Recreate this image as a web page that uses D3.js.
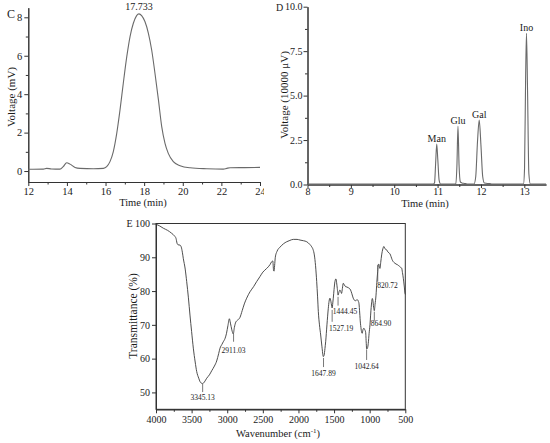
<!DOCTYPE html>
<html><head><meta charset="utf-8">
<script src="https://cdn.jsdelivr.net/npm/d3@7"></script>
<style>
html,body{margin:0;padding:0;background:#fff;}
svg{display:block;font-family:"Liberation Serif","Times New Roman",serif;}
</style></head>
<body>
<script>
// ---------- Panel C data (HPGPC) ----------
const cTime = [12,12.78,12.95,13.2,13.64,13.81,13.99,14.16,14.42,14.68,15.37,15.89,16.06,16.23,16.4,16.58,16.75,16.92,17.1,17.27,17.44,17.61,17.733,17.87,18.04,18.22,18.39,18.56,18.74,18.91,19.08,19.25,19.51,19.86,20.38,21.24,22.1,22.28,22.45,23.2,24];
const cVolt = [0.09,0.1,0.14,0.11,0.1,0.23,0.43,0.36,0.19,0.14,0.12,0.14,0.23,0.49,1.0,1.96,3.18,4.57,5.95,7.0,7.69,8.09,8.18,8.09,7.78,7.17,6.3,5.09,3.7,2.31,1.44,0.92,0.49,0.28,0.17,0.12,0.1,0.14,0.17,0.18,0.19];
const cXTicks = [12,14,16,18,20,22,24];
const cYTicks = [0,2,4,6,8];
const cPeakLabel = "17.733";

// ---------- Panel D data (monosaccharides) ----------
const dTime = [8,10.4,10.9,10.93,10.955,10.98,11.005,11.035,11.07,11.42,11.445,11.47,11.495,11.525,11.56,11.62,11.68,11.84,11.88,11.92,11.96,12.0,12.04,12.08,12.15,12.2,12.25,12.98,13.005,13.03,13.05,13.075,13.105,13.14,13.5];
const dVolt = [0.02,0.02,0.02,0.1,1.2,2.27,1.4,0.25,0.03,0.03,1.0,3.28,1.1,0.15,0.09,0.06,0.03,0.03,0.45,2.4,3.62,2.2,0.45,0.08,0.06,0.06,0.02,0.02,0.9,6.0,8.5,5.2,0.6,0.02,0.02];
const dPeakNames = ["Man","Glu","Gal","Ino"];
const dPeakTime = [10.98,11.47,11.96,13.05];
const dPeakVolt = [2.27,3.28,3.62,8.5];
const dXTicks = [8,9,10,11,12,13];
const dYTicks = [0,2.5,5,7.5,10];

// ---------- Panel E data (FT-IR) ----------
const eWave = [4000,3950,3897,3840,3780,3740,3719,3705,3690,3663,3645,3630,3617,3590,3569,3545,3523,3500,3476,3450,3429,3400,3382,3360,3345,3320,3288,3250,3218,3180,3148,3120,3101,3075,3055,3030,3010,2990,2970,2955,2935,2915,2900,2880,2860,2821,2790,2760,2727,2680,2630,2587,2540,2500,2446,2400,2376,2360,2350,2343,2335,2325,2300,2259,2210,2165,2120,2072,2020,1978,1930,1884,1840,1814,1795,1777,1760,1744,1732,1721,1705,1688,1670,1651,1640,1628,1618,1600,1581,1570,1558,1545,1534,1527,1518,1511,1500,1488,1474,1465,1455,1444,1430,1418,1405,1395,1383,1371,1355,1338,1320,1301,1285,1268,1250,1231,1215,1198,1185,1170,1160,1151,1140,1130,1123,1113,1105,1095,1081,1070,1057,1048,1043,1030,1020,1008,996,985,973,963,955,945,935,925,911,900,888,880,872,865,855,845,832,815,800,790,775,762,745,730,715,700,685,669,650,630,610,598,580,565,551,540,528,515,504,500];
const eTrans = [99.8,99.3,98.6,98.0,97.1,96.3,95.6,94.2,93.7,93.6,93.0,91.5,89.7,86.5,82.8,78,72.9,68,63.1,59,56.2,54.2,53.2,52.7,52.6,53.1,54.2,55.2,56.4,57.8,59.3,61.5,63.1,64.2,65.0,66.0,67.5,69.8,71.8,70.5,68.5,67.3,69.2,70.8,71.3,72.2,74.2,76.2,77.9,79.8,81.3,82.8,84.3,85.6,86.7,87.8,88.7,88.9,86.2,85.9,87.5,90.0,91.8,93.0,94.0,94.6,95.0,95.3,95.3,95.1,94.9,94.6,93.8,93.1,92.3,90.7,87.5,82.8,78.5,73.9,70.0,67.0,63.5,60.6,61.0,63.0,65.0,70.0,74.9,77.0,77.9,77.0,75.6,75.0,76.5,77.9,80.5,82.8,83.6,82.6,80.8,78.8,79.8,80.3,79.8,79.3,80.8,82.3,81.8,81.3,81.2,81.0,80.8,80.3,79.2,77.9,77.3,77.1,77.4,77.4,77.0,76.4,73.5,70.5,69.2,67.8,67.5,68.5,69.0,68.6,67.8,64.5,62.8,63.2,64.5,67.5,70.0,73.5,76.5,77.8,77.2,75.2,74.2,76.0,78.8,82.5,85.7,87.8,88.0,87.2,86.7,88.5,90.7,92.5,93.2,92.8,92.3,92.2,91.6,91.3,91.0,90.2,89.3,88.7,88.3,88.0,87.8,87.6,87.3,87.0,86.8,85.5,83.8,81.5,79.3,79.0];
const eLabels = ["3345.13","2911.03","1647.89","1527.19","1444.45","1042.64","864.90","820.72"];
const eMarkWave = [3345,2911,1648,1527,1444,1043,935,887];
const eMarkTop = [52.5,67.3,60.2,74.4,78.3,62.6,73.9,87.7];
const eMarkBot = [50.1,65.0,57.5,70.9,75.7,59.6,71.2,82.8];
const eXTicks = [4000,3500,3000,2500,2000,1500,1000,500];
const eYTicks = [50,60,70,80,90,100];

// ---------- drawing ----------
const svg = d3.select("body").append("svg").attr("width",550).attr("height",443);
const AX = "#333", TXT = "#1a1a1a";

function styleAxis(g){
  g.selectAll("path.domain").attr("stroke",AX).attr("stroke-width",1);
  g.selectAll(".tick line").attr("stroke",AX).attr("stroke-width",1);
  g.selectAll(".tick text").attr("fill",TXT).style("font-family","Liberation Serif, serif");
}

// ===== Panel C =====
svg.append("clipPath").attr("id","clipC").append("rect").attr("x",0).attr("y",0).attr("width",264).attr("height",215);
const gC = svg.append("g").attr("clip-path","url(#clipC)");
const xC = d3.scaleLinear().domain([12,24]).range([28.3,260]);
const yC = d3.scaleLinear().domain([-0.57,8.5]).range([182,7.7]);
const cMinorX = d3.range(13,24,2), cMinorY = [1,3,5,7];
gC.append("g").attr("transform","translate(0,182)").call(d3.axisBottom(xC).tickValues(cMinorX).tickFormat("").tickSize(2.5).tickSizeOuter(0)).call(styleAxis);
gC.append("g").attr("transform","translate(28.3,0)").call(d3.axisLeft(yC).tickValues(cMinorY).tickFormat("").tickSize(2.5).tickSizeOuter(0)).call(styleAxis);
gC.append("g").attr("transform","translate(0,182)").call(d3.axisBottom(xC).tickValues(cXTicks).tickFormat(d3.format("d")).tickSize(4).tickPadding(1.5).tickSizeOuter(0)).call(styleAxis).selectAll("text").style("font-size","10.5px");
gC.append("g").attr("transform","translate(28.3,0)").call(d3.axisLeft(yC).tickValues(cYTicks).tickFormat(d3.format("d")).tickSize(4).tickPadding(2).tickSizeOuter(0)).call(styleAxis).selectAll("text").style("font-size","10.5px");
const cPts = cTime.map((t,i)=>[t,cVolt[i]]);
gC.append("path").datum(cPts).attr("fill","none").attr("stroke","#6a6a6a").attr("stroke-width",1.1)
  .attr("d",d3.line().x(d=>xC(d[0])).y(d=>yC(d[1])).curve(d3.curveMonotoneX));
gC.append("text").attr("x",xC(17.733)).attr("y",yC(8.18)-3.5).attr("text-anchor","middle").attr("fill",TXT).style("font-size","10px").text(cPeakLabel);
gC.append("text").attr("x",7).attr("y",17.5).attr("fill",TXT).style("font-size","12px").text("C");
gC.append("text").attr("x",143).attr("y",206).attr("text-anchor","middle").attr("fill",TXT).style("font-size","10.5px").text("Time (min)");
gC.append("text").attr("transform","translate(14.5,97) rotate(-90)").attr("text-anchor","middle").attr("fill",TXT).style("font-size","11px").text("Voltage (mV)");

// ===== Panel D =====
const gD = svg.append("g");
const xD = d3.scaleLinear().domain([8,13.5]).range([307.5,546]);
const yD = d3.scaleLinear().domain([0,10]).range([184.5,6.7]);
const dMinorX = [8.5,9.5,10.5,11.5,12.5], dMinorY = [1.25,3.75,6.25,8.75];
gD.append("g").attr("transform","translate(0,184.5)").call(d3.axisBottom(xD).tickValues(dMinorX).tickFormat("").tickSize(2.5).tickSizeOuter(0)).call(styleAxis);
gD.append("g").attr("transform","translate(307.5,0)").call(d3.axisLeft(yD).tickValues(dMinorY).tickFormat("").tickSize(2.5).tickSizeOuter(0)).call(styleAxis);
gD.append("g").attr("transform","translate(0,184.5)").call(d3.axisBottom(xD).tickValues(dXTicks).tickFormat(d3.format("d")).tickSize(3.5).tickPadding(0).tickSizeOuter(0)).call(styleAxis).selectAll("text").style("font-size","10px");
gD.append("g").attr("transform","translate(307.5,0)").call(d3.axisLeft(yD).tickValues(dYTicks).tickFormat(d3.format(".1f")).tickSize(4).tickPadding(1).tickSizeOuter(0)).call(styleAxis).selectAll("text").style("font-size","10px");
const dPts = dTime.map((t,i)=>[t,dVolt[i]]);
gD.append("path").datum(dPts).attr("fill","none").attr("stroke","#6a6a6a").attr("stroke-width",1.1)
  .attr("d",d3.line().x(d=>xD(d[0])).y(d=>yD(d[1])).curve(d3.curveMonotoneX));
gD.selectAll("text.pk").data(dPeakNames).enter().append("text").attr("class","pk")
  .attr("x",(d,i)=>xD(dPeakTime[i])).attr("y",(d,i)=>yD(dPeakVolt[i])-2)
  .attr("text-anchor","middle").attr("fill",TXT).style("font-size","10px").text(d=>d);
gD.append("text").attr("x",276).attr("y",10.5).attr("fill",TXT).style("font-size","10px").text("D");
gD.append("text").attr("x",425).attr("y",206.5).attr("text-anchor","middle").attr("fill",TXT).style("font-size","10.5px").text("Time (min)");
gD.append("text").attr("transform","translate(288,95) rotate(-90)").attr("text-anchor","middle").attr("fill",TXT).style("font-size","11px").text("Voltage (10000 μV)");

// ===== Panel E =====
const gE = svg.append("g");
const xE = d3.scaleLinear().domain([4000,500]).range([156,405.3]);
const yE = d3.scaleLinear().domain([45,100]).range([409.3,223.5]);
const eMinorX = d3.range(3750,500,-500);
gE.append("g").attr("transform","translate(0,409.3)").call(d3.axisBottom(xE).tickValues(eMinorX).tickFormat("").tickSize(2.5).tickSizeOuter(0)).call(styleAxis);
gE.append("g").attr("transform","translate(0,409.3)").call(d3.axisBottom(xE).tickValues(eXTicks).tickFormat(d3.format("d")).tickSize(4).tickPadding(2.5).tickSizeOuter(0)).call(styleAxis).selectAll("text").style("font-size","10px");
gE.append("g").attr("transform","translate(156,0)").call(d3.axisLeft(yE).tickValues(eYTicks).tickFormat(d3.format("d")).tickSize(4).tickPadding(2).tickSizeOuter(0)).call(styleAxis).selectAll("text").style("font-size","10px");
gE.append("rect").attr("x",xE(4000)).attr("y",yE(100)).attr("width",xE(500)-xE(4000)).attr("height",yE(45)-yE(100)).attr("fill","none").attr("stroke",AX).attr("stroke-width",1);
const ePts = eWave.map((w,i)=>[w,eTrans[i]]);
gE.append("path").datum(ePts).attr("fill","none").attr("stroke","#3a3a3a").attr("stroke-width",0.9)
  .attr("d",d3.line().x(d=>xE(d[0])).y(d=>yE(d[1])).curve(d3.curveMonotoneX));
const eLabDx = [0,0,0,9,7,0,6.7,9.8], eLabDy = [8,11,9,9.5,8.5,9,5.5,6.5];
eLabels.forEach((lab,i)=>{
  const mx = xE(eMarkWave[i]);
  gE.append("line").attr("x1",mx).attr("x2",mx).attr("y1",yE(eMarkTop[i])).attr("y2",yE(eMarkBot[i])).attr("stroke","#555").attr("stroke-width",0.8);
  gE.append("text").attr("x",mx+eLabDx[i]).attr("y",yE(eMarkBot[i])+eLabDy[i]).attr("text-anchor","middle").attr("fill",TXT).style("font-size","7.5px").text(lab);
});
gE.append("text").attr("x",126.5).attr("y",227).attr("fill",TXT).style("font-size","10px").text("E");
const wt = gE.append("text").attr("x",278).attr("y",437).attr("text-anchor","middle").attr("fill",TXT).style("font-size","10.5px");
wt.append("tspan").text("Wavenumber (cm");
wt.append("tspan").attr("dy",-4).style("font-size","7px").text("-1");
wt.append("tspan").attr("dy",4).text(")");
gE.append("text").attr("transform","translate(136.5,316) rotate(-90)").attr("text-anchor","middle").attr("fill",TXT).style("font-size","11.5px").text("Transmittance (%)");
</script>
</body></html>
